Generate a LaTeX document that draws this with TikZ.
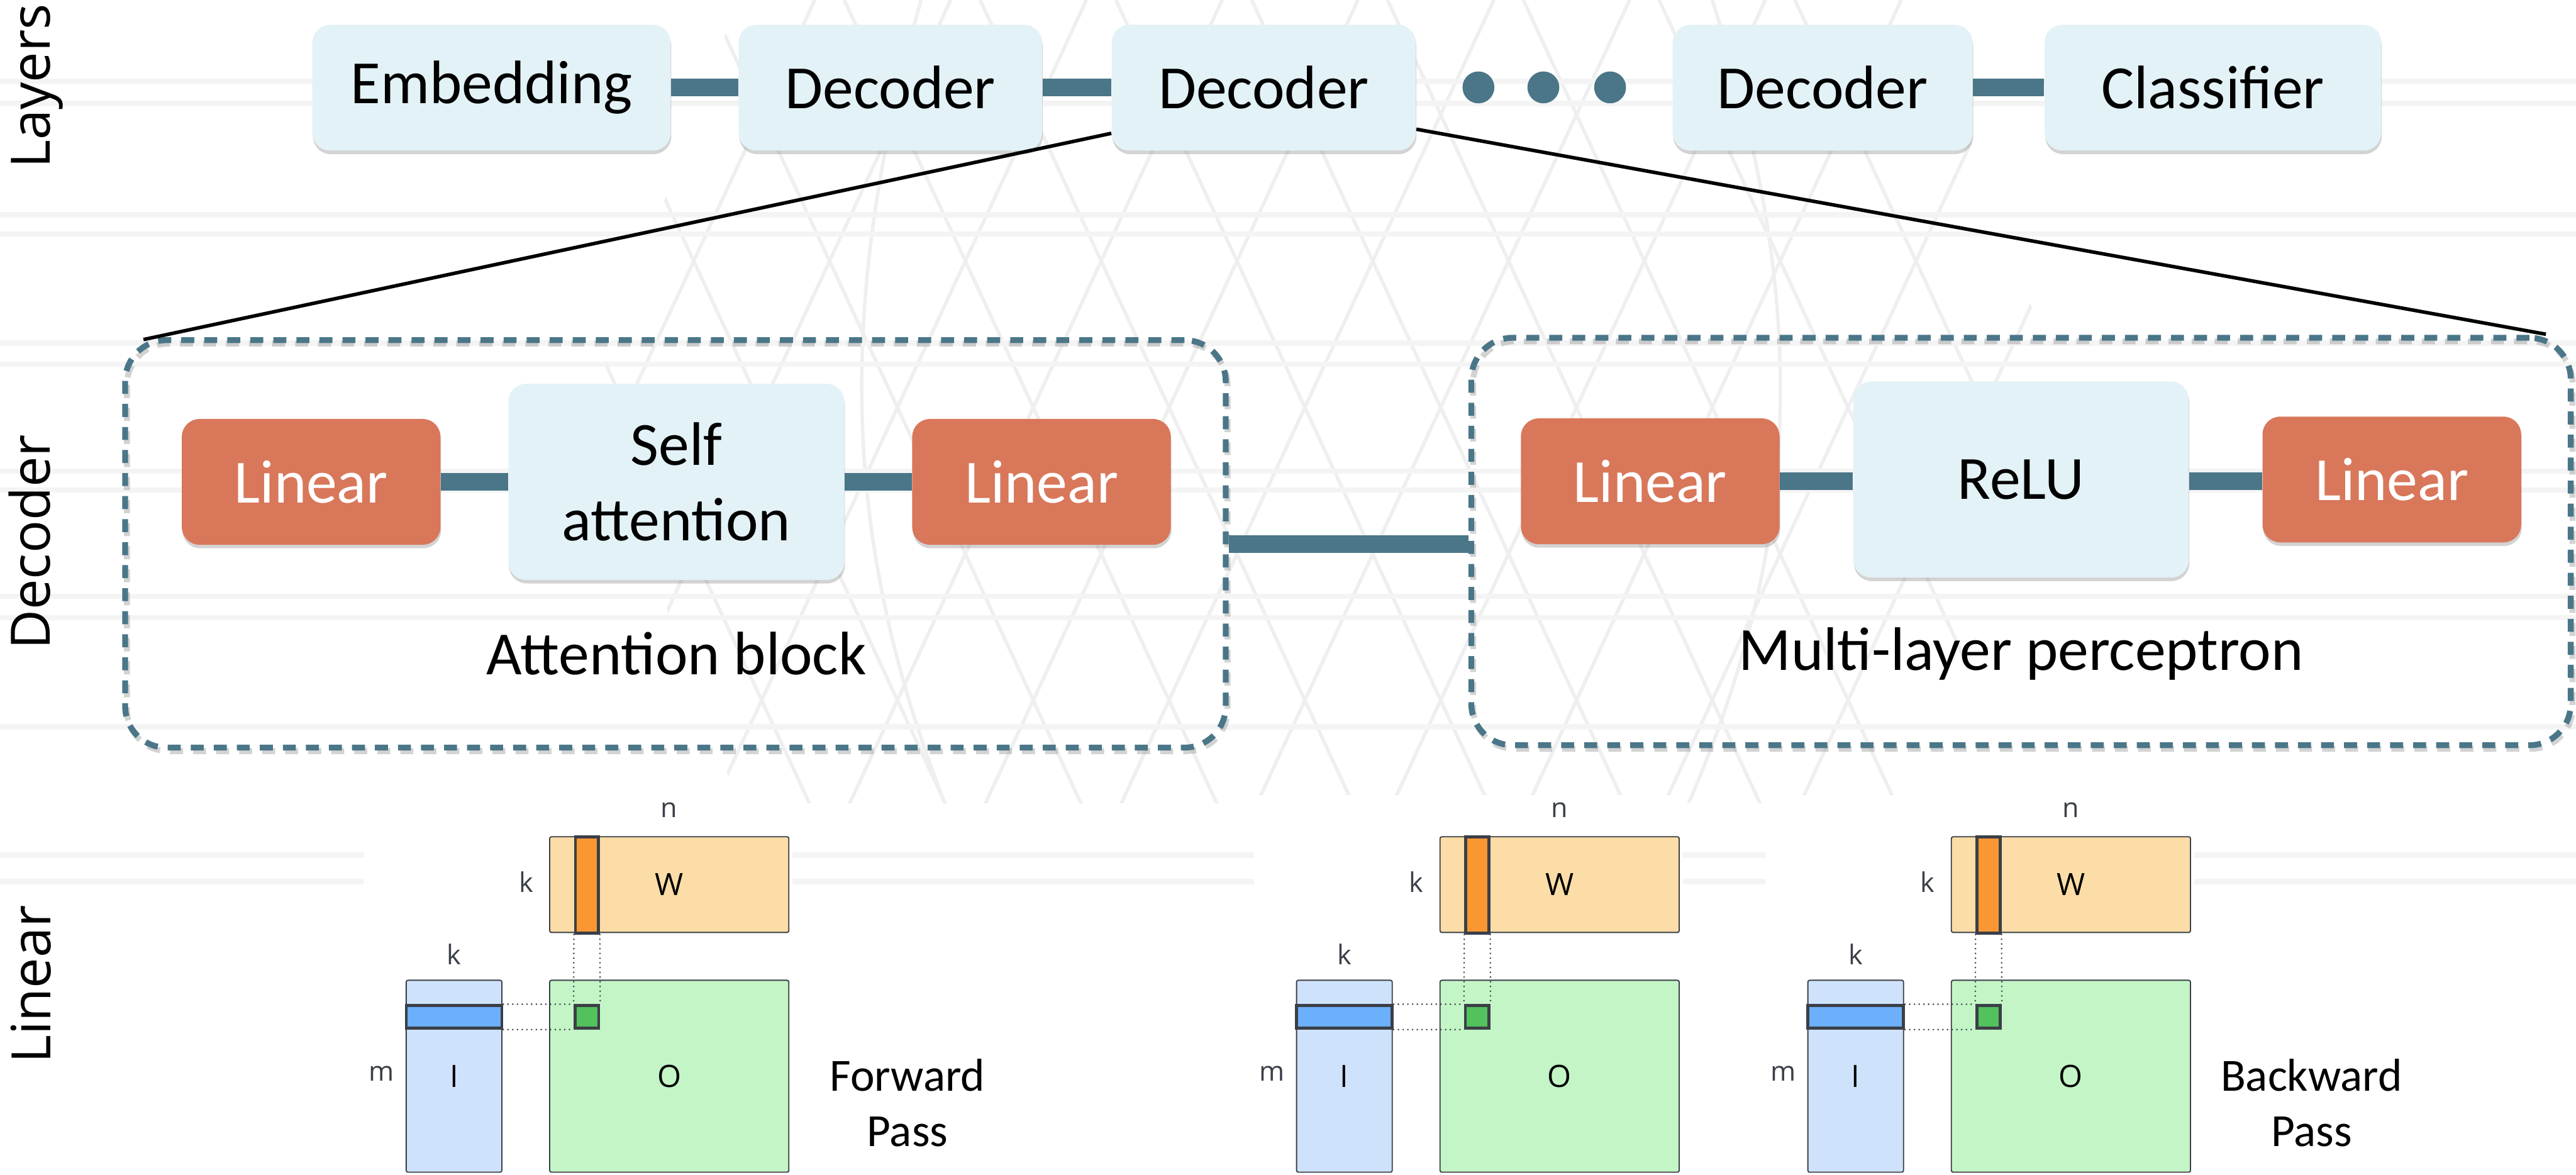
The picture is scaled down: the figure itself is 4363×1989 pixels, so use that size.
\documentclass[tikz,border=0pt]{standalone}
\usepackage{fontspec}
\setmainfont{Carlito}
\newfontfamily\sidefont{Open Sans}
\usetikzlibrary{shadows,calc}

% one drawing unit = one pixel of the 4363 x 1989 canvas
\newlength\pxu
\setlength\pxu{0.25pt}

\definecolor{boxblue}{HTML}{E3F2F6}
\definecolor{linorange}{HTML}{D9775B}
\definecolor{linkteal}{HTML}{4A7688}
\definecolor{wfill}{HTML}{FDDDA7}
\definecolor{wcol}{HTML}{FA9733}
\definecolor{ifill}{HTML}{CFE2FC}
\definecolor{irow}{HTML}{6CB0FC}
\definecolor{ofill}{HTML}{C3F5C6}
\definecolor{ocell}{HTML}{53C25D}
\definecolor{matline}{HTML}{3B3F47}
\definecolor{bgline}{HTML}{F4F4F4}
\definecolor{bgmesh}{HTML}{EFEFEF}

\tikzset{
  layerbox/.style={rounded corners=30\pxu, fill=boxblue, inner sep=0pt,
    minimum height=213\pxu, align=center,
    font=\fontsize{26}{31.75}\selectfont,
    drop shadow={shadow xshift=1\pxu, shadow yshift=-6\pxu, opacity=0.35, fill=gray}},
  linbox/.style={layerbox, fill=linorange, text=white, minimum width=438\pxu},
  conn/.style={draw=linkteal, line width=30\pxu},
  groupbox/.style={draw=linkteal, line width=10\pxu, dash pattern=on 22\pxu off 17\pxu,
    rounded corners=70\pxu, inner sep=0pt, minimum height=690\pxu},
  groupshade/.style={draw=gray, opacity=0.35, line width=10\pxu, dash pattern=on 22\pxu off 17\pxu,
    rounded corners=70\pxu},
  zoomline/.style={draw=black, line width=6\pxu},
  sidelabel/.style={rotate=90, anchor=base, inner sep=0pt,
    font=\sidefont\fontsize{23}{28}\selectfont},
  grouplabel/.style={inner sep=0pt, font=\fontsize{26}{31.75}\selectfont},
  passlabel/.style={inner sep=0pt, align=center, font=\fontsize{19.5}{23.5}\selectfont},
  mat/.style={draw=matline, line width=2\pxu, rounded corners=3\pxu, inner sep=0pt,
    font=\sidefont\fontsize{13}{15}\selectfont},
  slice/.style={draw=matline, line width=5\pxu, inner sep=0pt},
  dimlabel/.style={inner sep=0pt, text=matline, font=\sidefont\fontsize{11.5}{13}\selectfont},
  guide/.style={draw=matline, line width=3\pxu, line cap=round, dash pattern=on 0pt off 8\pxu},
  dotnode/.style={circle, fill=linkteal, minimum size=54\pxu, inner sep=0pt},
  mesh/.style={draw=bgmesh, line width=6\pxu}
}

% one matrix product panel: #1 = left edge of W and O, #2 = name suffix
\newcommand\matpanel[2]{%
  \begin{scope}[shift={(#1,0)}]
    \fill[white] (-315,1346) rectangle (411,1989);
    \node[mat, fill=wfill, minimum width=405\pxu, minimum height=162\pxu] (W#2) at (202.5,1498) {W};
    \node[mat, fill=ofill, minimum width=405\pxu, minimum height=325\pxu] (O#2) at (202.5,1822.5) {O};
    \node[mat, fill=ifill, minimum width=162\pxu, minimum height=325\pxu] (I#2) at (-162,1822.5) {I};
    \node[slice, fill=wcol, minimum width=39\pxu, minimum height=163\pxu] (col#2) at (63,1498.5) {};
    \node[slice, fill=ocell, minimum width=40\pxu, minimum height=38\pxu] (cell#2) at (63,1722) {};
    \node[slice, fill=irow, minimum width=162\pxu, minimum height=38\pxu] (row#2) at (-162,1722) {};
    \draw[guide] (col#2.south west) -- (cell#2.north west);
    \draw[guide] (col#2.south east) -- (cell#2.north east);
    \draw[guide] (row#2.north east) -- (cell#2.north west);
    \draw[guide] (row#2.south east) -- (cell#2.south west);
    \node[dimlabel] (n#2) at (202,1372) {n};
    \node[dimlabel] (kw#2) at (-40,1493) {k};
    \node[dimlabel] (ki#2) at (-162,1616) {k};
    \node[dimlabel] (m#2) at (-285,1818) {m};
  \end{scope}}

\begin{document}
\begin{tikzpicture}[x=0.25pt, y=-0.25pt]
  \useasboundingbox (0,0) rectangle (4363,1989);

  % faint wire mesh in the background
  \begin{scope}
    \clip (1250,0) -- (3250,0) -- (3500,680) -- (3250,1360) -- (1250,1360) -- (1000,680) -- cycle;
    \foreach \xx in {0,230,...,4600}
      \draw[mesh] (\xx,0) -- ++(-640,1380);
    \foreach \xx in {0,230,...,4600}
      \draw[mesh] (\xx-640,0) -- ++(640,1380);
    \draw[mesh] (1560,0) .. controls (1420,500) and (1420,900) .. (1600,1360);
    \draw[mesh] (2900,0) .. controls (3060,500) and (3060,900) .. (2860,1360);
  \end{scope}

  % faint horizontal rules in the background
  \foreach \yy in {138,175,364,396,581,617,798,830,1010,1046,1231,1448,1493}
    \draw[bgline, line width=9\pxu] (0,\yy) -- (4363,\yy);

  % row labels
  \node[sidelabel] (lblLayers) at (85,146) {Layers};
  \node[sidelabel] (lblDecoder) at (85,918) {Decoder};
  \node[sidelabel] (lblLinear) at (86,1667) {Linear};

  % stack of layers
  \node[layerbox, minimum width=607\pxu] (emb) at (832.5,148.5) {Embedding};
  \node[layerbox, minimum width=514\pxu] (dec1) at (1508,148.5) {Decoder};
  \node[layerbox, minimum width=515\pxu] (dec2) at (2140.5,148.5) {Decoder};
  \node[dotnode] (dot1) at (2504,148) {};
  \node[dotnode] (dot2) at (2614,148) {};
  \node[dotnode] (dot3) at (2727,148) {};
  \node[layerbox, minimum width=508\pxu] (dec3) at (3087,148.5) {Decoder};
  \node[layerbox, minimum width=570\pxu] (cls) at (3748,148.5) {Classifier};
  \draw[conn] (emb.east) -- (dec1.west);
  \draw[conn] (dec1.east) -- (dec2.west);
  \draw[conn] (dec3.east) -- (cls.west);

  % the two halves of a decoder
  \draw[groupshade] (215,582) rectangle (2079,1272);
  \draw[groupshade] (2495,578) rectangle (4357,1268);
  \node[groupbox, minimum width=1864\pxu] (att) at (1144,921) {};
  \node[groupbox, minimum width=1862\pxu] (mlp) at (3423,917) {};
  \draw[conn] (att.east) -- (att.east -| mlp.west);

  % expansion of the selected decoder
  \draw[zoomline] ($(dec2.south west)+(0,-30)$) -- ($(att.north west)+(36,4)$);
  \draw[zoomline] ($(dec2.south east)+(0,-37)$) -- ($(mlp.north east)+(-47,-1)$);

  % attention block
  \node[linbox] (lin1) at (527,816) {Linear};
  \node[layerbox, minimum width=569\pxu, minimum height=332\pxu] (sa) at (1145.5,816) {Self\\attention};
  \node[linbox] (lin2) at (1764,816) {Linear};
  \draw[conn] (lin1.east) -- (sa.west);
  \draw[conn] (sa.east) -- (lin2.west);
  \node[grouplabel] (attlbl) at (1146,1107) {Attention block};

  % multi-layer perceptron
  \node[linbox] (lin3) at (2795,815) {Linear};
  \node[layerbox, minimum width=568\pxu, minimum height=332\pxu] (relu) at (3423,812) {ReLU};
  \node[linbox] (lin4) at (4051,812) {Linear};
  \draw[conn] (lin3.east) -- (lin3.east -| relu.west);
  \draw[conn] (relu.east |- lin3.east) -- (lin3.east -| lin4.west);
  \node[grouplabel] (mlplbl) at (3423,1107) {Multi-layer perceptron};

  % matrix products inside a linear layer
  \matpanel{931}{a}
  \matpanel{2439}{b}
  \matpanel{3305}{c}
  \node[passlabel] (fwd) at (1537,1868) {Forward\\Pass};
  \node[passlabel] (bwd) at (3915,1868) {Backward\\Pass};
\end{tikzpicture}
\end{document}
